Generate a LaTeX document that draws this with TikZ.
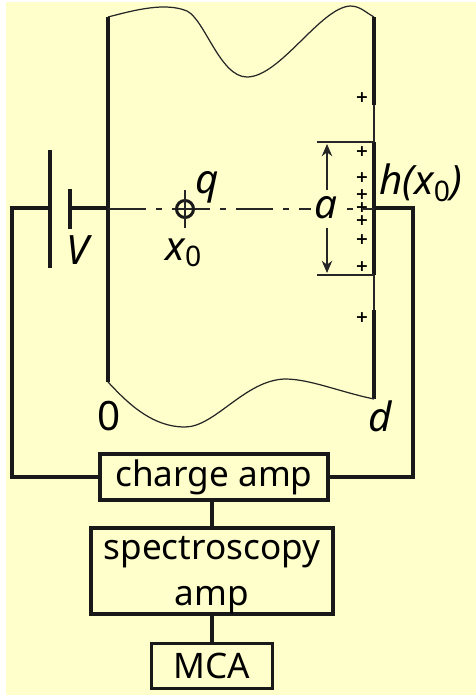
\documentclass[tikz,border=0pt]{standalone}
\usepackage{fontspec}
\setmainfont{Noto Sans}
\newfontfamily\plusfont{DejaVu Sans}
\usetikzlibrary{arrows.meta,positioning}
\definecolor{paper}{HTML}{FFFFCC}
\begin{document}
\begin{tikzpicture}[x=0.02cm,y=-0.02cm,
		wire/.style={line width=2pt, black!90},
		thin wire/.style={line width=0.7pt, black!85},
		box/.style={draw=black!90, line width=2pt, fill=paper, inner sep=0pt, align=center, font=\fontsize{20}{26}\selectfont},
		sym/.style={inner sep=0pt, font=\fontsize{23}{23}\selectfont\itshape},
		plus/.style={inner sep=0pt, font=\fontsize{9}{9}\plusfont\bfseries}]
	\useasboundingbox (0,0) rectangle (476,697);
	\fill[white] (0,0) rectangle (476,697);
	\fill[paper] (6,2) rectangle (476,695);
	% detector
	\coordinate (tl) at (108,17);
	\coordinate (tr) at (374,17);
	\coordinate (bl) at (108,382);
	\coordinate (br) at (374,399);
	\coordinate (plate) at (374,208);
	\draw[wire] (tl) -- (bl);
	\draw[wire] (tr) -- (374,105);
	\draw[thin wire] (374,105) -- (374,142);
	\draw[wire] (374,142) -- (374,275);
	\draw[thin wire] (374,275) -- (374,310);
	\draw[wire] (374,310) -- (br);
	\draw[thin wire] (tl) .. controls (135,10) and (165,2) .. (187,11)
		.. controls (205,20) and (220,77) .. (247,77)
		.. controls (280,77) and (320,8) .. (350,6)
		.. controls (360,6) and (365,12) .. (tr);
	\draw[thin wire] (bl) .. controls (125,400) and (150,427) .. (185,427)
		.. controls (215,427) and (245,380) .. (285,379)
		.. controls (310,379) and (340,392) .. (br);
	% battery
	\coordinate (plateA) at (50,150);
	\coordinate (plateB) at (50,268);
	\coordinate (plateC) at (70,189);
	\coordinate (plateD) at (70,229);
	\coordinate (wa) at (50,208);
	\coordinate (wb) at (70,208);
	\coordinate (wc) at (108,208);
	\draw[wire] (plateA) -- (plateB);
	\draw[wire] (plateC) -- (plateD);
	\draw[wire] (wb) -- (wc);
	% boxes
	\node[box, minimum width=228*0.02cm, minimum height=46*0.02cm] (charge) at (214,477) {charge amp};
	\node[box, minimum width=242*0.02cm, minimum height=82*0.02cm] (spec) at (212,571) {\rule{0pt}{18pt}spectroscopy\\amp};
	\node[box, minimum width=121*0.02cm, minimum height=45*0.02cm] (mca) at (212,666) {MCA};
	\draw[wire] (wa) -- (12,208) -- (12,477) -- (charge.west);
	\draw[wire] (plate) -- (413,208) -- (413,477) -- (charge.east);
	\draw[wire] (charge.south -| spec.north) -- (spec.north);
	\draw[wire] (spec.south) -- (mca.north);
	% axis and charge
	\coordinate (axisend) at (374,209);
	\draw[thin wire, dash pattern=on 21.5pt off 5.7pt on 3.4pt off 5.7pt] (108,209) -- (axisend);
	\node[circle, draw=black!90, line width=1.7pt, minimum size=0.34cm, inner sep=0pt] (chargedot) at (185,209) {};
	\draw[thin wire] (185,190) -- (185,228);
	\node[sym] (q) at (207,187) {q};
	\node[sym] (x) at (184,253) {x\textsubscript{\upshape 0}};
	\node[sym] (V) at (78,250) {V};
	\node[sym] (zero) at (109,416) {\upshape 0};
	\node[sym] (d) at (380,416) {d};
	\node[sym] (h) at (421,183) {h(x\textsubscript{\upshape 0})};
	% width of the charge cloud
	\coordinate (ca) at (317,142);
	\coordinate (cb) at (374,142);
	\coordinate (cc) at (317,275);
	\coordinate (cd) at (374,275);
	\draw[thin wire] (ca) -- (cb);
	\draw[thin wire] (cc) -- (cd);
	\node[sym, fill=paper, inner xsep=2pt] (a) at (326,208) {a};
	\draw[thin wire, -{Stealth[length=7pt,width=6pt]}] (327,190) -- (327,144);
	\draw[thin wire, -{Stealth[length=7pt,width=6pt]}] (327,228) -- (327,273);
	\foreach \y in {98,152,178,195,208,221,240,267,318} {
		\node[plus] at (362,\y) {+};
	}
\end{tikzpicture}
\end{document}
